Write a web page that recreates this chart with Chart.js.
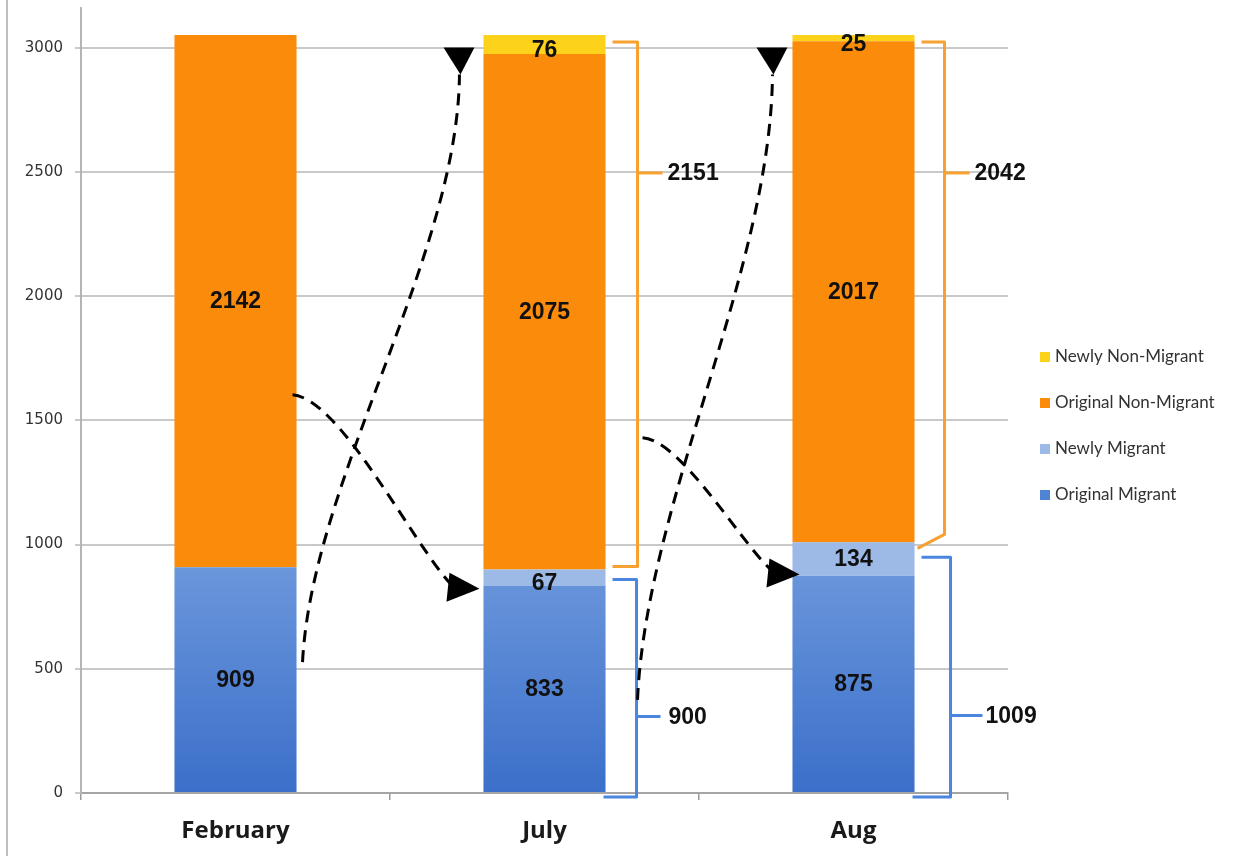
<!DOCTYPE html>
<html><head><meta charset="utf-8">
<script src="https://cdn.jsdelivr.net/npm/chart.js@4/dist/chart.umd.min.js"></script>
<style>html,body{margin:0;padding:0;background:#fff}#wrap{width:1251px;height:856px;position:relative}</style>
</head><body><div id="wrap"><canvas id="c"></canvas></div>
<script>
// ---- data ----
const categories = ['February', 'July', 'Aug'];
const originalMigrant = [909, 833, 875];
const newlyMigrant = [0, 67, 134];
const originalNonMigrant = [2142, 2075, 2017];
const newlyNonMigrant = [0, 76, 25];
const migrantTotals = [null, 900, 1009];
const nonMigrantTotals = [null, 2151, 2042];
const yTickValues = [0, 500, 1000, 1500, 2000, 2500, 3000];
const seriesNames = ['Original Migrant', 'Newly Migrant', 'Original Non-Migrant', 'Newly Non-Migrant'];

const COLORS = {
  yellow: '#FDD21A', orange: '#FB8B0B', lightBlue: '#9DB9E6',
  blueTop: '#6F9ADD', blueBottom: '#3B6FC9',
  bracketOrange: '#F6A130', bracketBlue: '#4A86E0'
};

function blueGradient(ctx) {
  const chart = ctx.chart;
  if (!chart.chartArea) return COLORS.blueTop;
  const y = chart.scales.y;
  const g = chart.ctx.createLinearGradient(0, y.getPixelForValue(1000), 0, y.getPixelForValue(0));
  g.addColorStop(0, COLORS.blueTop);
  g.addColorStop(1, COLORS.blueBottom);
  return g;
}

const valueLabels = {
  id: 'valueLabels',
  afterDatasetsDraw(chart) {
    const c = chart.ctx;
    c.save();
    c.font = 'bold 23px "Liberation Sans", Arial, sans-serif';
    c.fillStyle = '#111';
    c.textAlign = 'center';
    c.textBaseline = 'middle';
    chart.data.datasets.forEach((ds, di) => {
      const meta = chart.getDatasetMeta(di);
      meta.data.forEach((el, i) => {
        const v = ds.data[i];
        if (!v) return;
        const h = Math.abs(el.base - el.y);
        let yy = (el.y + el.base) / 2;
        if (h < 30) yy += 5;
        c.fillText(String(v), el.x, yy + 1);
      });
    });
    c.restore();
  }
};

const frameLine = {
  id: 'frameLine',
  beforeDraw(chart) {
    const c = chart.ctx;
    c.save();
    c.strokeStyle = '#BDBDBD';
    c.lineWidth = 2;
    c.beginPath(); c.moveTo(7, 0); c.lineTo(7, chart.height); c.stroke();
    c.restore();
  }
};

const brackets = {
  id: 'brackets',
  afterDatasetsDraw(chart) {
    const c = chart.ctx;
    const y = chart.scales.y;
    const meta = chart.getDatasetMeta(0);
    c.save();
    c.lineWidth = 3;
    c.lineJoin = 'round';
    c.font = 'bold 23px "Liberation Sans", Arial, sans-serif';
    c.textBaseline = 'middle';
    c.textAlign = 'left';
    for (let i = 0; i < categories.length; i++) {
      if (nonMigrantTotals[i] == null) continue;
      const el = meta.data[i];
      const right = el.x + el.width / 2;
      const total = originalMigrant[i] + newlyMigrant[i] + originalNonMigrant[i] + newlyNonMigrant[i];
      const mig = migrantTotals[i];
      const last = i === categories.length - 1;
      // orange bracket (non-migrant)
      const oTop = y.getPixelForValue(total) + 7;
      const oBot = y.getPixelForValue(mig) - (last ? 8 : 3);
      const oxv = right + (last ? 30 : 32);
      const oLabelY = y.getPixelForValue(2500) + 1;
      c.strokeStyle = COLORS.bracketOrange;
      c.beginPath();
      c.moveTo(right + 7, oTop); c.lineTo(oxv, oTop); c.lineTo(oxv, oBot);
      if (last) c.lineTo(right + 3, oBot + 14); else c.lineTo(right + 7, oBot);
      c.stroke();
      c.beginPath(); c.moveTo(oxv, oLabelY); c.lineTo(oxv + 25, oLabelY); c.stroke();
      c.fillStyle = '#111';
      c.fillText(String(nonMigrantTotals[i]), oxv + 30, oLabelY + 1);
      // blue bracket (migrant)
      const bTop = y.getPixelForValue(mig) + (last ? 15 : 10);
      const bBot = y.getPixelForValue(0) + 4;
      const bxv = right + (last ? 36 : 31);
      const bLabelY = bTop + (bBot - bTop) * (last ? 0.66 : 0.63);
      c.strokeStyle = COLORS.bracketBlue;
      c.beginPath();
      c.moveTo(right + 7, bTop); c.lineTo(bxv, bTop); c.lineTo(bxv, bBot); c.lineTo(right - 2, bBot);
      c.stroke();
      c.beginPath(); c.moveTo(bxv, bLabelY); c.lineTo(bxv + (last ? 32 : 24), bLabelY); c.stroke();
      c.fillText(String(mig), bxv + (last ? 35 : 32), bLabelY + 1);
    }
    c.restore();
  }
};

const flowArrows = {
  id: 'flowArrows',
  afterDatasetsDraw(chart) {
    const c = chart.ctx;
    const y = chart.scales.y;
    const meta = chart.getDatasetMeta(0);
    const flows = [
      { from: 0, to: 1, sVal: 527, eVal: 2892, sOff: 6, eOff: -24, up: true },
      { from: 1, to: 2, sVal: 375, eVal: 2892, sOff: 32, eOff: -20, up: true },
      { from: 0, to: 1, sVal: 1603, eVal: 842, sOff: -4, eOff: -33, up: false },
      { from: 1, to: 2, sVal: 1430, eVal: 900, sOff: 37, eOff: -22, up: false }
    ];
    c.save();
    c.strokeStyle = '#000';
    c.fillStyle = '#000';
    c.lineWidth = 3;
    flows.forEach(f => {
      const a = meta.data[f.from], b = meta.data[f.to];
      const sx = a.x + a.width / 2 + f.sOff, sy = y.getPixelForValue(f.sVal);
      const ex = b.x - b.width / 2 + f.eOff, ey = y.getPixelForValue(f.eVal);
      const dx = ex - sx, dy = ey - sy;
      let c1, c2;
      if (f.up) { c1 = [sx + dx * 0.06, sy + dy * 0.31]; c2 = [sx + dx * 0.99, sy + dy * 0.69]; }
      else { c1 = [sx + dx * 0.30, sy + dy * 0.02]; c2 = [sx + dx * 0.75, sy + dy * 0.77]; }
      c.setLineDash([12, 8]);
      c.beginPath();
      c.moveTo(sx, sy);
      c.bezierCurveTo(c1[0], c1[1], c2[0], c2[1], ex, ey);
      c.stroke();
      c.setLineDash([]);
      c.beginPath();
      if (f.up) {
        c.moveTo(ex + 1, ey);
        c.lineTo(ex - 16, ey - 27);
        c.lineTo(ex + 15, ey - 27);
      } else {
        c.moveTo(ex + 29, ey + 5);
        c.lineTo(ex - 1, ey - 11);
        c.lineTo(ex - 4, ey + 18);
      }
      c.closePath();
      c.fill();
    });
    c.restore();
  }
};

const customLegend = {
  id: 'customLegend',
  afterDraw(chart) {
    const c = chart.ctx;
    const items = [
      { t: seriesNames[3], col: COLORS.yellow },
      { t: seriesNames[2], col: COLORS.orange },
      { t: seriesNames[1], col: COLORS.lightBlue },
      { t: seriesNames[0], col: '#4F84D4' }
    ];
    c.save();
    c.font = '17px Lato, "Open Sans", sans-serif';
    c.textBaseline = 'middle';
    c.textAlign = 'left';
    const x0 = chart.chartArea.right + 32;
    const y0 = 357;
    items.forEach((it, k) => {
      const yy = y0 + k * 46;
      c.fillStyle = it.col;
      c.fillRect(x0, yy - 5, 10, 10);
      c.fillStyle = '#333';
      c.fillText(it.t, x0 + 15, yy);
    });
    c.restore();
  }
};

new Chart(document.getElementById('c'), {
  type: 'bar',
  data: {
    labels: categories,
    datasets: [
      { label: seriesNames[0], data: originalMigrant, backgroundColor: blueGradient },
      { label: seriesNames[1], data: newlyMigrant, backgroundColor: COLORS.lightBlue },
      { label: seriesNames[2], data: originalNonMigrant, backgroundColor: COLORS.orange },
      { label: seriesNames[3], data: newlyNonMigrant, backgroundColor: COLORS.yellow }
    ]
  },
  options: {
    responsive: true,
    maintainAspectRatio: false,
    animation: false,
    layout: { padding: { top: 8, right: 243, left: 0, bottom: 0 } },
    datasets: { bar: { barPercentage: 1, categoryPercentage: 0.395, borderWidth: 0 } },
    plugins: { legend: { display: false }, tooltip: { enabled: false } },
    scales: {
      x: {
        stacked: true,
        grid: { display: true, drawOnChartArea: false, drawTicks: true, tickLength: 7, color: '#9A9A9A', lineWidth: 1.5 },
        border: { display: true, color: '#A5A5A5', width: 2 },
        ticks: { font: { family: '"Open Sans", sans-serif', size: 24, weight: 'bold' }, color: '#1a1a1a', padding: 17 },
        afterFit(s) { s.height = 63; s.paddingLeft = 0; s.paddingRight = 0; }
      },
      y: {
        stacked: true,
        min: 0,
        max: 3160,
        afterBuildTicks(s) { s.ticks = yTickValues.map(v => ({ value: v })); },
        ticks: { font: { family: '"DejaVu Sans", sans-serif', size: 15 }, color: '#333', padding: 12, callback: v => String(v) },
        grid: { color: '#C9C9C9', lineWidth: 2, tickLength: 6 },
        border: { display: true, color: '#B5B5B5', width: 2 },
        afterFit(s) { s.width = 81; s.paddingTop = 0; s.paddingBottom = 0; }
      }
    }
  },
  plugins: [frameLine, brackets, flowArrows, valueLabels, customLegend]
});
</script>
</body></html>
